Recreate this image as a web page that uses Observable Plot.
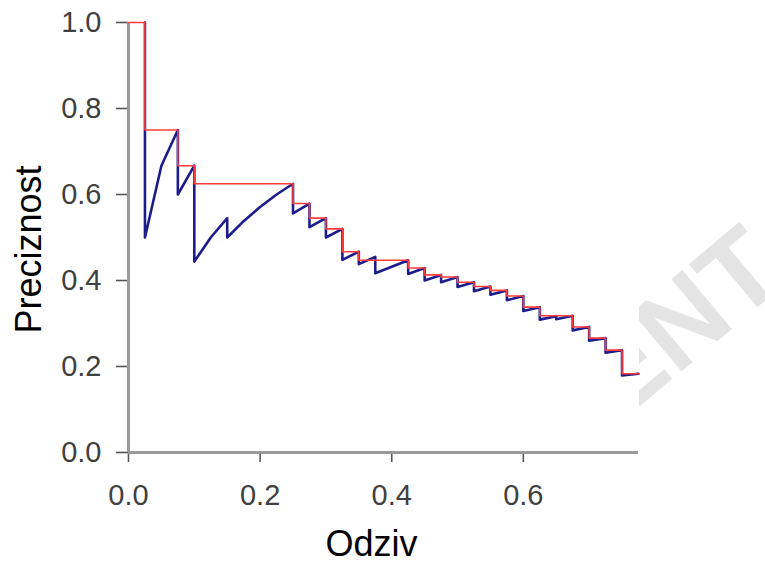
<!DOCTYPE html>
<html>
<head>
<meta charset="utf-8">
<script src="https://cdn.jsdelivr.net/npm/d3@7"></script>
<script src="https://cdn.jsdelivr.net/npm/@observablehq/plot@0.6"></script>
<style>
  html, body { margin: 0; padding: 0; background: white; }
  #wrap { position: relative; width: 765px; height: 565px; overflow: hidden; }
  #wm { position: absolute; left: 0; top: 0; z-index: 0; }
  #chart { position: absolute; left: 0; top: 0; z-index: 1; }
</style>
</head>
<body>
<div id="wrap">
  <svg id="wm" width="765" height="565">
    <text transform="translate(790,280) rotate(-40)" text-anchor="end"
      font-family="'Liberation Sans', Arial, sans-serif" font-weight="bold"
      font-size="112" fill="#e4e4e4">ENT</text>
  </svg>
  <div id="chart"></div>
</div>
<script>
// Raw precision at each ranked document (blue), by recall
const recallBlue = [0.025,0.025,0.05,0.075,0.075,0.1,0.1,0.125,0.15,0.15,0.175,0.2,0.225,0.25,0.25,0.275,0.275,0.3,0.3,0.325,0.325,0.35,0.35,0.375,0.375,0.4,0.425,0.425,0.45,0.45,0.475,0.475,0.5,0.5,0.525,0.525,0.55,0.55,0.575,0.575,0.6,0.6,0.625,0.625,0.65,0.65,0.675,0.675,0.7,0.7,0.725,0.725,0.75,0.75,0.775];
const precisionBlue = [1.0,0.5,0.667,0.75,0.6,0.667,0.444,0.5,0.545,0.5,0.538,0.571,0.6,0.625,0.556,0.579,0.524,0.545,0.5,0.52,0.448,0.467,0.438,0.455,0.417,0.432,0.447,0.415,0.429,0.4,0.413,0.396,0.408,0.385,0.396,0.375,0.386,0.367,0.377,0.354,0.364,0.329,0.338,0.309,0.317,0.31,0.318,0.284,0.292,0.26,0.266,0.232,0.238,0.179,0.183];

// Interpolated precision (red step line)
const recallRed = [0,0.025,0.075,0.1,0.25,0.275,0.3,0.325,0.35,0.425,0.45,0.475,0.5,0.525,0.55,0.575,0.6,0.625,0.675,0.7,0.725,0.75,0.775];
const precisionRed = [1.0,1.0,0.75,0.667,0.625,0.579,0.545,0.52,0.467,0.447,0.429,0.413,0.408,0.396,0.386,0.377,0.364,0.338,0.318,0.292,0.266,0.238,0.183];

const xTicks = [0, 0.2, 0.4, 0.6];
const yTicks = [0, 0.2, 0.4, 0.6, 0.8, 1.0];
const xLabel = "Odziv";
const yLabel = "Preciznost";

const blue = recallBlue.map((r, i) => ({r, p: precisionBlue[i]}));
const red = recallRed.map((r, i) => ({r, p: precisionRed[i]}));

const font = "'Liberation Sans', Arial, Helvetica, sans-serif";

const chart = Plot.plot({
  width: 765,
  height: 565,
  marginLeft: 128,
  marginRight: 127,
  marginTop: 22,
  marginBottom: 113,
  style: {background: "transparent", fontFamily: font, overflow: "visible"},
  x: {domain: [0, 0.775]},
  y: {domain: [0, 1]},
  marks: [
    Plot.frame({fill: "white", stroke: "white"}),
    Plot.axisY(yTicks, {tickSize: 12, tickPadding: 15, tickFormat: d3.format(".1f"),
      fontSize: 29, stroke: "#555", strokeWidth: 1.6, fill: "#404040", label: null}),
    Plot.axisX(xTicks, {tickSize: 10, tickPadding: 22, tickFormat: d3.format(".1f"),
      fontSize: 29, stroke: "#555", strokeWidth: 1.6, fill: "#404040", label: null}),
    Plot.ruleX([0], {stroke: "#9a9a9a", strokeWidth: 3}),
    Plot.ruleY([0], {stroke: "#9a9a9a", strokeWidth: 3}),
    Plot.line(blue, {x: "r", y: "p", stroke: "#1c1c8c", strokeWidth: 2.6}),
    Plot.line(red, {x: "r", y: "p", curve: "step-before", stroke: "#ff3b3b", strokeWidth: 1.6}),
    Plot.text([yLabel], {frameAnchor: "left", textAnchor: "middle", dx: -99, dy: 12, rotate: -90, fontSize: 36, fill: "black"}),
    Plot.text([xLabel], {frameAnchor: "bottom", textAnchor: "middle", dy: 103, dx: -12, fontSize: 36, fill: "black"})
  ]
});
document.getElementById("chart").appendChild(chart);
</script>
</body>
</html>
